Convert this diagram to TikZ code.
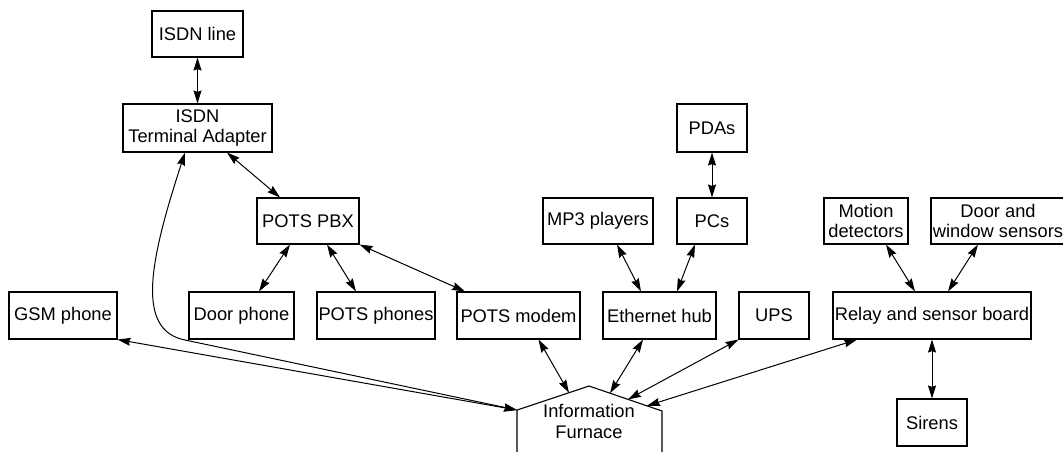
\documentclass[tikz,border=0pt]{standalone}
\usepackage{fontspec}
\setmainfont{Liberation Sans}
\usetikzlibrary{arrows.meta,calc}
\begin{document}
\begin{tikzpicture}[x=1pt,y=-1pt,
  box/.style={draw, line width=1.1pt, inner sep=0pt, minimum height=47pt, align=center, font=\fontsize{18.3}{20}\selectfont},
  arr/.style={{Stealth[length=13pt,width=8pt,inset=1.5pt]}-{Stealth[length=13pt,width=8pt,inset=1.5pt]}, line width=1pt}]
\clip (0,0) rectangle (1063,451);
\fill[white] (0,0) rectangle (1063,451);
% nodes
\node[box, minimum width=91pt, minimum height=46pt] (isdnline) at (197.5,34) {ISDN line};
\node[box, minimum width=149pt, minimum height=48pt] (isdnta) at (197.5,128) {ISDN\\Terminal Adapter};
\node[box, minimum width=102pt, minimum height=46pt] (pbx) at (308,221) {POTS PBX};
\node[box, minimum width=70pt, minimum height=48pt] (pdas) at (712,128) {PDAs};
\node[box, minimum width=110pt, minimum height=46pt] (mp3) at (598,221) {MP3 players};
\node[box, minimum width=70pt, minimum height=46pt] (pcs) at (712,221) {PCs};
\node[box, minimum width=84pt, minimum height=46pt] (motion) at (866,221) {Motion\\detectors};
\node[box, minimum width=134pt, minimum height=46pt] (dws) at (998,221) {Door and\\window sensors};
\node[box, minimum width=108pt] (gsm) at (63,315.5) {GSM phone};
\node[box, minimum width=105pt] (doorphone) at (241.5,315.5) {Door phone};
\node[box, minimum width=118pt] (potsphones) at (376,315.5) {POTS phones};
\node[box, minimum width=123pt] (modem) at (518.5,315.5) {POTS modem};
\node[box, minimum width=113pt] (hub) at (659.5,315.5) {Ethernet hub};
\node[box, minimum width=70pt] (ups) at (774,315.5) {UPS};
\node[box, minimum width=198pt] (relay) at (932,315.5) {Relay and sensor board};
\node[box, minimum width=70pt] (sirens) at (932,422.5) {Sirens};
% furnace (house shape)
\draw[line width=1.1pt] (517,460) -- (517,410) -- (589,386) -- (662,411) -- (662,460);
\node[align=center, inner sep=0pt, font=\fontsize{18.3}{21}\selectfont] (furnace) at (589,421) {Information\\Furnace};
\coordinate (fL) at (517,410);
\coordinate (fA) at (569,392.7);
\coordinate (fB) at (610,393.2);
\coordinate (fC) at (628,399.4);
\coordinate (fD) at (647,405.8);
% connectors
\draw[arr] (isdnline.south) -- (isdnta.north);
\draw[arr] ([xshift=29.5pt]isdnta.south) -- ([xshift=-28pt]pbx.north);
\draw[arr] ([xshift=-18pt]pbx.south) -- ([xshift=17.5pt]doorphone.north);
\draw[arr] ([xshift=19pt]pbx.south) -- ([xshift=-20pt]potsphones.north);
\draw[arr] (pbx.south east) -- ([xshift=-53.5pt]modem.north);
\draw[arr] ([xshift=-12.5pt]isdnta.south) .. controls (150,260) and (135,330) .. (185,340) -- (fL);
\draw[arr] (gsm.south east) -- (fL);
\draw[arr] ([xshift=20pt]modem.south) -- (fA);
\draw[arr] ([xshift=-16.5pt]hub.south) -- (fB);
\draw[arr] (ups.south west) -- (fC);
\draw[arr] ([xshift=-75pt]relay.south) -- (fD);
\draw[arr] (relay.south) -- (sirens.north);
\draw[arr] ([xshift=20pt]motion.south) -- ([xshift=-17pt]relay.north);
\draw[arr] ([xshift=-20pt]dws.south) -- ([xshift=16pt]relay.north);
\draw[arr] (pdas.south) -- (pcs.north);
\draw[arr] ([xshift=19pt]mp3.south) -- ([xshift=-18.5pt]hub.north);
\draw[arr] ([xshift=-17pt]pcs.south) -- ([xshift=17.5pt]hub.north);
\end{tikzpicture}
\end{document}
